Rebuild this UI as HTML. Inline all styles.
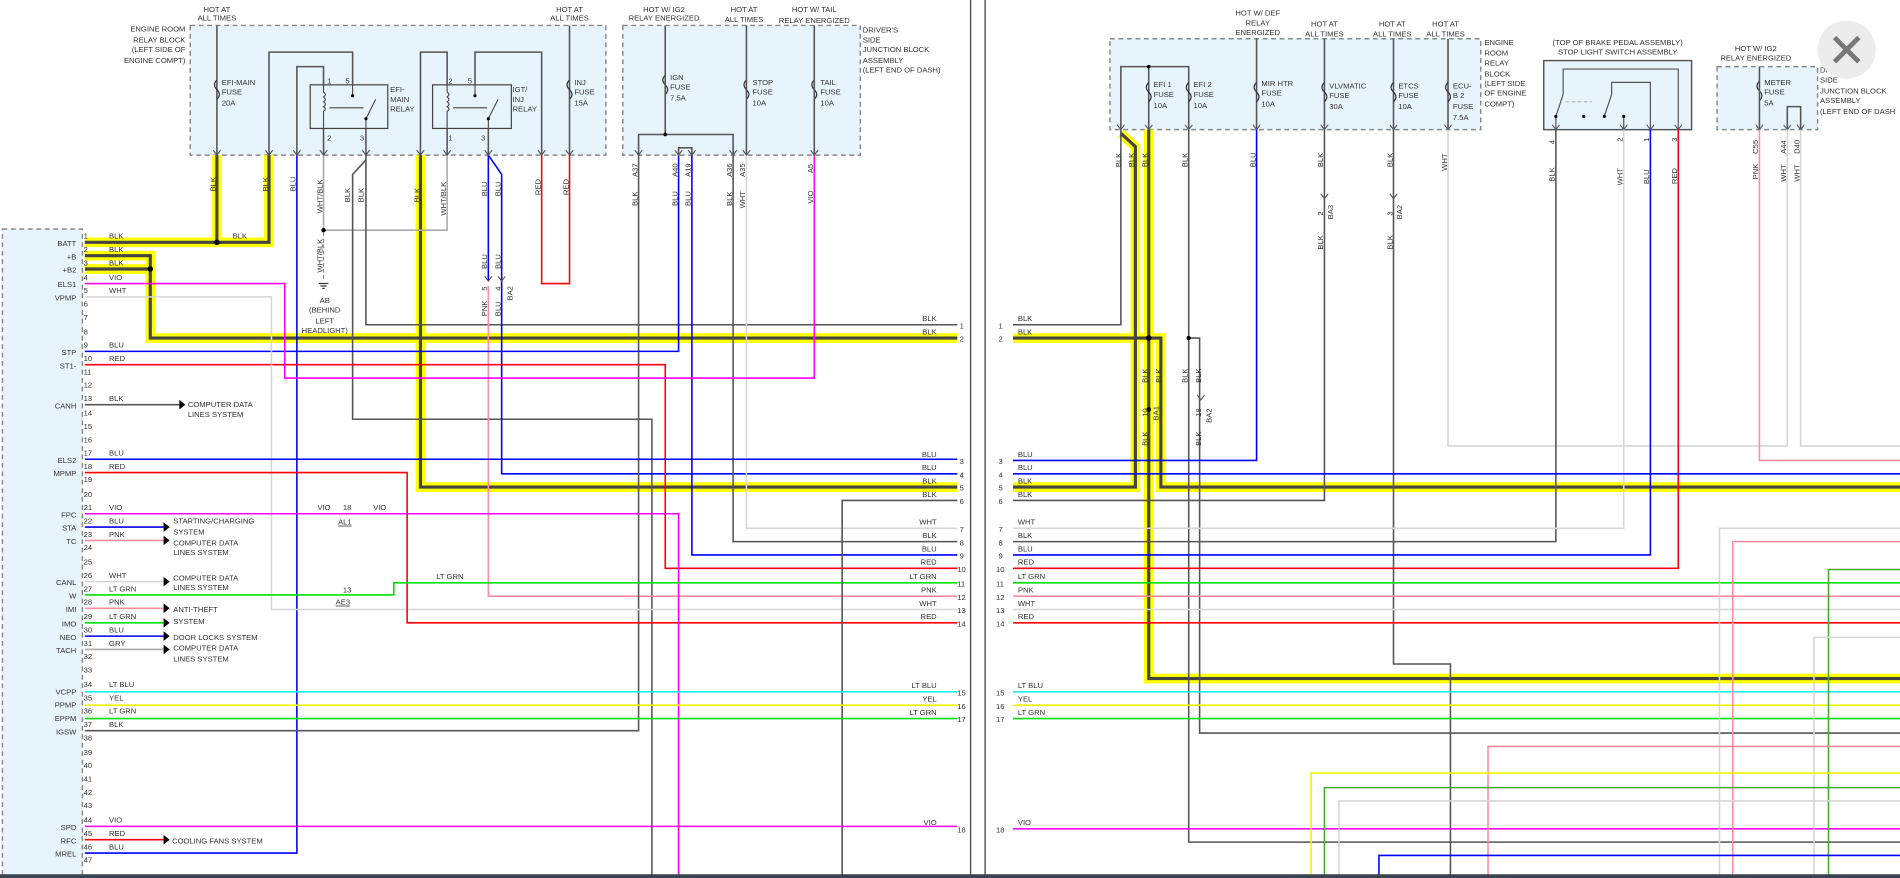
<!DOCTYPE html>
<html><head><meta charset="utf-8"><style>
html,body{margin:0;padding:0;background:#fff;width:1900px;height:878px;overflow:hidden}
svg{display:block}
text{font-family:"Liberation Sans",sans-serif;font-size:6.3px;fill:#333}
.e{text-anchor:end}.m{text-anchor:middle}
.w{fill:none;stroke-width:1.3}
.k{stroke:#555}.b{stroke:#0000ff}.r{stroke:#ff0000}.v{stroke:#ff00ff}.p{stroke:#ff8ca0}.g{stroke:#00e000}.h{stroke:#d6d6d6}.c{stroke:#00f0f0}.y{stroke:#f4f400}.dg{stroke:#4aa832}.gy{stroke:#aaa}
.hl{fill:none;stroke:#ffff00;stroke-width:8}
.hk{fill:none;stroke:#444;stroke-width:2.6}
.box{fill:#e8f4fc;stroke:#888;stroke-width:1.2;stroke-dasharray:4 3}
</style></head><body>
<svg width="1900" height="878" viewBox="0 0 1568 724.6" preserveAspectRatio="none">
<!-- boxes -->
<rect class="box" x="2" y="189" width="66" height="540"/>
<rect class="box" x="157" y="21" width="343" height="107"/>
<rect class="box" x="514" y="21" width="196" height="107"/>
<rect class="box" x="916" y="32" width="306" height="75"/>
<rect x="1274" y="50" width="122" height="57" fill="#e8f4fc" stroke="#555" stroke-width="1.2"/>
<rect class="box" x="1417" y="55" width="83" height="52"/>
<!-- divider -->
<line x1="801" y1="0" x2="801" y2="724" stroke="#555" stroke-width="1.2"/>
<line x1="813" y1="0" x2="813" y2="724" stroke="#555" stroke-width="1.2"/>

<!-- ===== LEFT PANEL HIGHLIGHTS ===== -->
<path class="hl" d="M179 128V200M70 200H222V128M70 211H124V279H790M70 222H124M347 128V402H790"/>
<path class="hk" d="M179 128V200M70 200H222V128M70 211H124V279H790M70 222H124M347 128V402H790"/>
<circle cx="179" cy="200" r="2.3" fill="#000"/><circle cx="124" cy="222" r="2.3" fill="#000"/>

<!-- left wires -->
<path class="w b" d="M245 128V704H70"/>
<path class="w gy" d="M267 128V190M267 190H369V128"/>
<path d="M267 192V232" stroke="#888" stroke-width="1" stroke-dasharray="3 2"/>
<circle cx="267" cy="190" r="1.8" fill="#000"/>
<path d="M263 234h8M264.5 236h5M266 238h2" stroke="#333" stroke-width="1"/>
<path class="w k" d="M302 128V268H790M302 132L291 144V346H538V724"/>
<path class="w b" d="M403 128L414 144V391H790"/>
<path class="w b" d="M403 128V232"/>
<path class="w p" d="M403 236V492H790"/>
<path class="w r" d="M447 128V234H470V128"/>
<path class="w k" d="M527 128V603H70"/>
<path class="w b" d="M560 128V290H70"/>
<path class="w r" d="M70 301H549V469H790"/>
<path class="w b" d="M571 128V458H790"/>
<path class="w k" d="M605 128V447H790"/>
<path class="w h" d="M616 128V436H790"/>
<path class="w v" d="M672 128V312H235V234H70"/>
<path class="w h" d="M70 245H224V503H790"/>
<path class="w r" d="M70 390H336V514H790"/>
<path class="w b" d="M70 379H790"/>
<path class="w v" d="M70 424H560V724"/>
<path class="w g" d="M70 491H325V481H790"/>
<path class="w k" d="M790 413H695V724"/>
<path class="w c" d="M70 571H790"/><path class="w y" d="M70 582H790"/><path class="w g" d="M70 593H790"/>
<path class="w v" d="M70 682H790"/>
<!-- arrows -->
<g stroke-width="1.3" fill="none">
<path class="k" d="M70 334H148"/><path class="b" d="M70 435H135"/><path class="p" d="M70 446H135"/>
<path class="h" d="M70 480H135"/><path class="p" d="M70 502H135"/><path class="g" d="M70 514H135"/>
<path class="b" d="M70 525H135"/><path class="gy" d="M70 536H135"/><path class="r" d="M70 693H135"/>
</g>
<g fill="#000">
<path d="M148 330l5 4-5 4z"/><path d="M135 431l5 4-5 4z"/><path d="M135 442l5 4-5 4z"/><path d="M135 476l5 4-5 4z"/><path d="M135 498l5 4-5 4z"/><path d="M135 510l5 4-5 4z"/><path d="M135 521l5 4-5 4z"/><path d="M135 532l5 4-5 4z"/><path d="M135 689l5 4-5 4z"/>
</g>
<text x="155" y="336">COMPUTER DATA</text><text x="155" y="344">LINES SYSTEM</text>
<text x="143" y="432">STARTING/CHARGING</text><text x="143" y="441">SYSTEM</text>
<text x="143" y="450">COMPUTER DATA</text><text x="143" y="458">LINES SYSTEM</text>
<text x="143" y="479">COMPUTER DATA</text><text x="143" y="487">LINES SYSTEM</text>
<text x="143" y="505">ANTI-THEFT</text><text x="143" y="515">SYSTEM</text>
<text x="143" y="528">DOOR LOCKS SYSTEM</text>
<text x="143" y="537">COMPUTER DATA</text><text x="143" y="546">LINES SYSTEM</text>
<text x="142" y="696">COOLING FANS SYSTEM</text>

<!-- pin numbers / names -->
<g>
<text x="69" y="197">1</text><text x="69" y="208">2</text><text x="69" y="219">3</text><text x="69" y="231">4</text><text x="69" y="242">5</text><text x="69" y="253">6</text><text x="69" y="264">7</text><text x="69" y="276">8</text><text x="69" y="287">9</text><text x="69" y="298">10</text><text x="69" y="309">11</text><text x="69" y="320">12</text><text x="69" y="331">13</text><text x="69" y="343">14</text><text x="69" y="354">15</text><text x="69" y="365">16</text><text x="69" y="376">17</text><text x="69" y="387">18</text><text x="69" y="398">19</text><text x="69" y="410">20</text><text x="69" y="421">21</text><text x="69" y="432">22</text><text x="69" y="443">23</text><text x="69" y="454">24</text><text x="69" y="466">25</text><text x="69" y="477">26</text><text x="69" y="488">27</text><text x="69" y="499">28</text><text x="69" y="511">29</text><text x="69" y="522">30</text><text x="69" y="533">31</text><text x="69" y="544">32</text><text x="69" y="555">33</text><text x="69" y="567">34</text><text x="69" y="578">35</text><text x="69" y="589">36</text><text x="69" y="600">37</text><text x="69" y="611">38</text><text x="69" y="623">39</text><text x="69" y="634">40</text><text x="69" y="645">41</text><text x="69" y="656">42</text><text x="69" y="667">43</text><text x="69" y="679">44</text><text x="69" y="690">45</text><text x="69" y="701">46</text><text x="69" y="712">47</text>
</g>
<g class="e">
<text class="e" x="63" y="203">BATT</text><text class="e" x="63" y="214">+B</text><text class="e" x="63" y="225">+B2</text><text class="e" x="63" y="237">ELS1</text><text class="e" x="63" y="248">VPMP</text><text class="e" x="63" y="293">STP</text><text class="e" x="63" y="304">ST1-</text><text class="e" x="63" y="337">CANH</text><text class="e" x="63" y="382">ELS2</text><text class="e" x="63" y="393">MPMP</text><text class="e" x="63" y="427">FPC</text><text class="e" x="63" y="438">STA</text><text class="e" x="63" y="449">TC</text><text class="e" x="63" y="483">CANL</text><text class="e" x="63" y="494">W</text><text class="e" x="63" y="505">IMI</text><text class="e" x="63" y="517">IMO</text><text class="e" x="63" y="528">NEO</text><text class="e" x="63" y="539">TACH</text><text class="e" x="63" y="573">VCPP</text><text class="e" x="63" y="584">PPMP</text><text class="e" x="63" y="595">EPPM</text><text class="e" x="63" y="606">IGSW</text><text class="e" x="63" y="685">SPD</text><text class="e" x="63" y="696">RFC</text><text class="e" x="63" y="707">MREL</text>
</g>
<g>
<text x="90" y="197">BLK</text><text x="192" y="197">BLK</text><text x="90" y="208">BLK</text><text x="90" y="219">BLK</text><text x="90" y="231">VIO</text><text x="90" y="242">WHT</text><text x="90" y="287">BLU</text><text x="90" y="298">RED</text><text x="90" y="331">BLK</text><text x="90" y="376">BLU</text><text x="90" y="387">RED</text><text x="90" y="421">VIO</text><text x="90" y="432">BLU</text><text x="90" y="443">PNK</text><text x="90" y="477">WHT</text><text x="90" y="488">LT GRN</text><text x="90" y="499">PNK</text><text x="90" y="511">LT GRN</text><text x="90" y="522">BLU</text><text x="90" y="533">GRY</text><text x="90" y="567">LT BLU</text><text x="90" y="578">YEL</text><text x="90" y="589">LT GRN</text><text x="90" y="600">BLK</text><text x="90" y="679">VIO</text><text x="90" y="690">RED</text><text x="90" y="701">BLU</text>
<text x="262" y="421">VIO</text><text x="308" y="421">VIO</text><text x="283" y="421">18</text><text x="279" y="433" text-decoration="underline">AL1</text>
<text x="283" y="489">13</text><text x="277" y="499" text-decoration="underline">AE3</text><text x="360" y="478">LT GRN</text>
</g>
<!-- left panel right end labels -->
<g>
<text class="e" x="773" y="265">BLK</text><text class="e" x="773" y="276">BLK</text><text class="e" x="773" y="377">BLU</text><text class="e" x="773" y="388">BLU</text><text class="e" x="773" y="399">BLK</text><text class="e" x="773" y="410">BLK</text><text class="e" x="773" y="433">WHT</text><text class="e" x="773" y="444">BLK</text><text class="e" x="773" y="455">BLU</text><text class="e" x="773" y="466">RED</text><text class="e" x="773" y="478">LT GRN</text><text class="e" x="773" y="489">PNK</text><text class="e" x="773" y="500">WHT</text><text class="e" x="773" y="511">RED</text><text class="e" x="773" y="568">LT BLU</text><text class="e" x="773" y="579">YEL</text><text class="e" x="773" y="590">LT GRN</text><text class="e" x="773" y="681">VIO</text>
<text x="792" y="271">1</text><text x="792" y="282">2</text><text x="792" y="383">3</text><text x="792" y="394">4</text><text x="792" y="405">5</text><text x="792" y="416">6</text><text x="792" y="439">7</text><text x="792" y="450">8</text><text x="792" y="461">9</text><text x="790" y="472">10</text><text x="790" y="484">11</text><text x="790" y="495">12</text><text x="790" y="506">13</text><text x="790" y="517">14</text><text x="790" y="574">15</text><text x="790" y="585">16</text><text x="790" y="596">17</text><text x="790" y="687">18</text>
</g>

<!-- box1 internals -->
<g class="w k" stroke-width="1">
<path d="M179 21V128M470 21V128"/>
<path d="M245 128V55H267V70M222 128V43H291V70M267 106V128M302 106V128"/>
<path d="M347 128V43H369V70M447 128V43H392V70M369 106V128M403 106V128"/>
</g>
<rect x="256" y="70" width="64" height="36" fill="none" stroke="#444" stroke-width="1"/>
<rect x="357" y="70" width="65" height="36" fill="none" stroke="#444" stroke-width="1"/>
<g fill="none" stroke="#444" stroke-width="0.9">
<path d="M267 70v6q3 2 0 4q3 2 0 4q3 2 0 4q3 2 0 4v14M291 70v8M302 106v-8l8-16M272 89h28"/>
<path d="M369 70v6q3 2 0 4q3 2 0 4q3 2 0 4q3 2 0 4v14M392 70v8M403 106v-8l8-16M374 89h28"/>
</g>
<circle cx="291" cy="79" r="1.3" fill="#000"/><circle cx="302" cy="98" r="1.3" fill="#000"/>
<circle cx="392" cy="79" r="1.3" fill="#000"/><circle cx="403" cy="98" r="1.3" fill="#000"/>
<g fill="none" stroke="#333" stroke-width="1">
<path d="M179 66q-4 4 0 8q4 4 0 8"/><path d="M470 66q-4 4 0 8q4 4 0 8"/>
<path d="M549 62q-4 4 0 8q4 4 0 8"/><path d="M616 66q-4 4 0 8q4 4 0 8"/><path d="M672 66q-4 4 0 8q4 4 0 8"/>
</g>
<text x="270" y="69">1</text><text x="285" y="69">5</text><text x="270" y="116">2</text><text x="297" y="116">3</text>
<text x="370" y="69">2</text><text x="386" y="69">5</text><text x="370" y="116">1</text><text x="397" y="116">3</text>
<text x="183" y="70">EFI-MAIN</text><text x="183" y="78">FUSE</text><text x="183" y="87">20A</text>
<text x="322" y="76">EFI-</text><text x="322" y="84">MAIN</text><text x="322" y="92">RELAY</text>
<text x="423" y="76">IGT/</text><text x="423" y="84">INJ</text><text x="423" y="92">RELAY</text>
<text x="474" y="70">INJ</text><text x="474" y="78">FUSE</text><text x="474" y="87">15A</text>
<text class="m" x="179" y="10">HOT AT</text><text class="m" x="179" y="17">ALL TIMES</text>
<text class="m" x="470" y="10">HOT AT</text><text class="m" x="470" y="17">ALL TIMES</text>
<text class="e" x="153" y="26">ENGINE ROOM</text><text class="e" x="153" y="35">RELAY BLOCK</text><text class="e" x="153" y="43">(LEFT SIDE OF</text><text class="e" x="153" y="52">ENGINE COMPT)</text>
<!-- box2 internals -->
<g class="w k" stroke-width="1">
<path d="M549 21V111M527 128V111H605V128M616 21V128M672 21V128M560 128V122H571V128"/>
</g>
<circle cx="549" cy="111" r="1.5" fill="#000"/>
<text x="553" y="66">IGN</text><text x="553" y="74">FUSE</text><text x="553" y="83">7.5A</text>
<text x="621" y="70">STOP</text><text x="621" y="78">FUSE</text><text x="621" y="87">10A</text>
<text x="677" y="70">TAIL</text><text x="677" y="78">FUSE</text><text x="677" y="87">10A</text>
<text class="m" x="548" y="10">HOT W/ IG2</text><text class="m" x="548" y="17">RELAY ENERGIZED</text>
<text class="m" x="614" y="10">HOT AT</text><text class="m" x="614" y="18">ALL TIMES</text>
<text class="m" x="672" y="10">HOT W/ TAIL</text><text class="m" x="672" y="19">RELAY ENERGIZED</text>
<text x="712" y="27">DRIVER'S</text><text x="712" y="35">SIDE</text><text x="712" y="43">JUNCTION BLOCK</text><text x="712" y="52">ASSEMBLY</text><text x="712" y="60">(LEFT END OF DASH)</text>
<!-- v marks box bottoms -->
<g fill="none" stroke="#555" stroke-width="0.9">
<path d="M176 124l3 4 3-4M219 124l3 4 3-4M242 124l3 4 3-4M264 124l3 4 3-4M299 124l3 4 3-4M344 124l3 4 3-4M366 124l3 4 3-4M400 124l3 4 3-4M444 124l3 4 3-4M467 124l3 4 3-4"/>
<path d="M524 124l3 4 3-4M557 124l3 4 3-4M568 124l3 4 3-4M602 124l3 4 3-4M613 124l3 4 3-4M669 124l3 4 3-4"/>
<path d="M922 103l3 4 3-4M945 103l3 4 3-4M978 103l3 4 3-4M1034 103l3 4 3-4M1090 103l3 4 3-4M1147 103l3 4 3-4M1192 103l3 4 3-4"/>
<path d="M1281 103l3 4 3-4M1337 103l3 4 3-4M1359 103l3 4 3-4M1382 103l3 4 3-4M1449 103l3 4 3-4M1472 103l3 4 3-4M1483 103l3 4 3-4"/>
<path d="M400 228l3 4 3-4M411 228l3 4 3-4M988 326l3 4 3-4M1090 160l3 4 3-4M1147 160l3 4 3-4"/>
</g>
<!-- vertical labels left -->
<g>
<text transform="translate(178,158) rotate(-90)">BLK</text><text transform="translate(221,158) rotate(-90)">BLK</text><text transform="translate(244,158) rotate(-90)">BLU</text><text transform="translate(266,176) rotate(-90)">WHT/BLK</text><text transform="translate(289,167) rotate(-90)">BLK</text><text transform="translate(300,167) rotate(-90)">BLK</text><text transform="translate(346,167) rotate(-90)">BLK</text><text transform="translate(368,178) rotate(-90)">WHT/BLK</text><text transform="translate(402,162) rotate(-90)">BLU</text><text transform="translate(413,162) rotate(-90)">BLU</text><text transform="translate(446,161) rotate(-90)">RED</text><text transform="translate(469,161) rotate(-90)">RED</text>
<text transform="translate(266,225) rotate(-90)">WHT/BLK</text>
<text transform="translate(402,222) rotate(-90)">BLU</text><text transform="translate(413,222) rotate(-90)">BLU</text>
<text transform="translate(402,240) rotate(-90)">5</text><text transform="translate(413,240) rotate(-90)">4</text><text transform="translate(423,248) rotate(-90)">BA2</text>
<text transform="translate(402,261) rotate(-90)">PNK</text><text transform="translate(413,261) rotate(-90)">BLU</text>
<text transform="translate(526,146) rotate(-90)">A37</text><text transform="translate(526,170) rotate(-90)">BLK</text>
<text transform="translate(559,146) rotate(-90)">A40</text><text transform="translate(559,170) rotate(-90)">BLU</text>
<text transform="translate(570,146) rotate(-90)">A19</text><text transform="translate(570,170) rotate(-90)">BLU</text>
<text transform="translate(604,146) rotate(-90)">A36</text><text transform="translate(604,170) rotate(-90)">BLK</text>
<text transform="translate(615,146) rotate(-90)">A35</text><text transform="translate(615,172) rotate(-90)">WHT</text>
<text transform="translate(671,143) rotate(-90)">A5</text><text transform="translate(671,168) rotate(-90)">VIO</text>
</g>
<text class="m" x="268" y="250">AB</text><text class="m" x="268" y="258">(BEHIND</text><text class="m" x="268" y="267">LEFT</text><text class="m" x="268" y="275">HEADLIGHT)</text>

<!-- ===== RIGHT PANEL ===== -->
<path class="hl" d="M925 110L937 121V402H836M836 279H958V402H1568M948 107V560H1568"/>
<path class="hk" d="M925 110L937 121V402H836M836 279H958V402H1568M948 107V560H1568"/>
<circle cx="948" cy="279" r="2.3" fill="#000"/><circle cx="948" cy="338" r="2" fill="#000"/>
<path class="w k" d="M925 107V268H836"/>
<path class="w k" d="M981 107V695H1568M981 279H990V605H1568"/>
<circle cx="981" cy="279" r="1.8" fill="#000"/>
<path class="w b" d="M1037 107V380H836"/>
<path class="w k" d="M1093 107V413H836"/>
<path class="w k" d="M1150 107V548H1197V724"/>
<path class="w h" d="M1195 107V368H1475V107M1486 107V368H1568"/>
<path class="w k" d="M1284 107V447H836"/>
<path class="w h" d="M1340 107V436H836"/>
<path class="w b" d="M1362 107V458H836"/>
<path class="w r" d="M1385 107V469H836"/>
<path class="w p" d="M1452 107V380H1568"/>
<path class="w b" d="M836 391H1568"/>
<path class="w g" d="M836 481H1568"/><path class="w p" d="M836 492H1568"/><path class="w h" d="M836 503H1568"/><path class="w r" d="M836 514H1568"/>
<path class="w c" d="M836 571H1568"/><path class="w y" d="M836 582H1568"/><path class="w g" d="M836 593H1568"/>
<path class="w v" d="M836 684H1568"/>
<path class="w h" d="M1419 724V436H1568"/><path class="w p" d="M1430 724V447H1568"/><path class="w dg" d="M1509 724V470H1568"/>
<path class="w h" d="M1497 724V526H1568"/><path class="w p" d="M1228 724V616H1568"/><path class="w y" d="M1082 724V638H1568"/>
<path class="w dg" d="M1093 724V650H1568"/><path class="w h" d="M1105 724V661H1568"/><path class="w b" d="M1138 724V706H1568"/>
<!-- ER box internals -->
<g class="w k" stroke-width="1"><path d="M925 107V55H981V107M948 55V107M1037 32V107M1093 32V107M1150 32V107M1195 32V107"/></g>
<circle cx="948" cy="55" r="1.5" fill="#000"/>
<g fill="none" stroke="#333" stroke-width="1">
<path d="M948 68q-4 4 0 8q4 4 0 8"/><path d="M981 68q-4 4 0 8q4 4 0 8"/><path d="M1037 68q-4 4 0 8q4 4 0 8"/><path d="M1093 68q-4 4 0 8q4 4 0 8"/><path d="M1150 68q-4 4 0 8q4 4 0 8"/><path d="M1195 68q-4 4 0 8q4 4 0 8"/><path d="M1452 67q-4 4 0 8q4 4 0 8"/>
</g>
<text x="952" y="72">EFI 1</text><text x="952" y="80">FUSE</text><text x="952" y="89">10A</text>
<text x="985" y="72">EFI 2</text><text x="985" y="80">FUSE</text><text x="985" y="89">10A</text>
<text x="1041" y="71">MIR HTR</text><text x="1041" y="79">FUSE</text><text x="1041" y="88">10A</text>
<text x="1097" y="73">VLVMATIC</text><text x="1097" y="81">FUSE</text><text x="1097" y="90">30A</text>
<text x="1154" y="73">ETCS</text><text x="1154" y="81">FUSE</text><text x="1154" y="90">10A</text>
<text x="1199" y="73">ECU-</text><text x="1199" y="81">B 2</text><text x="1199" y="90">FUSE</text><text x="1199" y="99">7.5A</text>
<text x="1225" y="37">ENGINE</text><text x="1225" y="46">ROOM</text><text x="1225" y="54">RELAY</text><text x="1225" y="63">BLOCK</text><text x="1225" y="71">(LEFT SIDE</text><text x="1225" y="79">OF ENGINE</text><text x="1225" y="88">COMPT)</text>
<text class="m" x="1038" y="13">HOT W/ DEF</text><text class="m" x="1038" y="21">RELAY</text><text class="m" x="1038" y="29">ENERGIZED</text>
<text class="m" x="1093" y="22">HOT AT</text><text class="m" x="1093" y="30">ALL TIMES</text>
<text class="m" x="1149" y="22">HOT AT</text><text class="m" x="1149" y="30">ALL TIMES</text>
<text class="m" x="1193" y="22">HOT AT</text><text class="m" x="1193" y="30">ALL TIMES</text>
<!-- brake switch -->
<g fill="none" stroke="#555" stroke-width="1"><path d="M1284 107V96l6-18V57H1385V107M1324 96l6-18V68H1362V107M1340 107V96"/></g>
<path d="M1292 84h22" stroke="#bbb" stroke-width="1" stroke-dasharray="3 2"/>
<circle cx="1284" cy="96" r="1.3" fill="#000"/><circle cx="1307" cy="96" r="1.3" fill="#000"/><circle cx="1324" cy="96" r="1.3" fill="#000"/><circle cx="1340" cy="96" r="1.3" fill="#000"/>
<text class="m" x="1335" y="37">(TOP OF BRAKE PEDAL ASSEMBLY)</text><text class="m" x="1335" y="45">STOP LIGHT SWITCH ASSEMBLY</text>
<text x="1278" y="118" transform="rotate(-90 1281 116)">4</text><text x="1334" y="116" transform="rotate(-90 1337 114)">2</text><text x="1356" y="116" transform="rotate(-90 1359 114)">1</text><text x="1379" y="116" transform="rotate(-90 1382 114)">3</text>
<!-- meter -->
<path class="w k" stroke-width="1" d="M1452 55V107M1475 107V88H1486V107"/>
<text x="1456" y="70">METER</text><text x="1456" y="78">FUSE</text><text x="1456" y="87">5A</text>
<text class="m" x="1449" y="42">HOT W/ IG2</text><text class="m" x="1449" y="50">RELAY ENERGIZED</text>
<text x="1502" y="60">DRIVER'S</text><text x="1502" y="68">SIDE</text><text x="1502" y="77">JUNCTION BLOCK</text><text x="1502" y="85">ASSEMBLY</text><text x="1502" y="94">(LEFT END OF DASH</text>
<!-- right vertical labels -->
<g>
<text transform="translate(925,138) rotate(-90)">BLK</text><text transform="translate(936,138) rotate(-90)">BLK</text><text transform="translate(947,138) rotate(-90)">BLK</text><text transform="translate(980,138) rotate(-90)">BLK</text><text transform="translate(1036,138) rotate(-90)">BLU</text><text transform="translate(1092,138) rotate(-90)">BLK</text><text transform="translate(1149,138) rotate(-90)">BLK</text><text transform="translate(1194,141) rotate(-90)">WHT</text>
<text transform="translate(1092,178) rotate(-90)">2</text><text transform="translate(1100,181) rotate(-90)">BA3</text><text transform="translate(1092,206) rotate(-90)">BLK</text>
<text transform="translate(1149,178) rotate(-90)">3</text><text transform="translate(1157,181) rotate(-90)">BA2</text><text transform="translate(1149,206) rotate(-90)">BLK</text>
<text transform="translate(1283,150) rotate(-90)">BLK</text><text transform="translate(1339,153) rotate(-90)">WHT</text><text transform="translate(1361,152) rotate(-90)">BLU</text><text transform="translate(1384,152) rotate(-90)">RED</text>
<text transform="translate(1451,127) rotate(-90)">C55</text><text transform="translate(1451,148) rotate(-90)">PNK</text>
<text transform="translate(1474,127) rotate(-90)">A44</text><text transform="translate(1474,150) rotate(-90)">WHT</text>
<text transform="translate(1485,127) rotate(-90)">D40</text><text transform="translate(1485,150) rotate(-90)">WHT</text>
<text transform="translate(947,316) rotate(-90)">BLK</text><text transform="translate(958,316) rotate(-90)">BLK</text><text transform="translate(980,316) rotate(-90)">BLK</text><text transform="translate(991,316) rotate(-90)">BLK</text>
<text transform="translate(947,344) rotate(-90)">10</text><text transform="translate(956,347) rotate(-90)">BA1</text>
<text transform="translate(991,344) rotate(-90)">18</text><text transform="translate(1000,349) rotate(-90)">BA2</text>
<text transform="translate(947,368) rotate(-90)">BLK</text><text transform="translate(991,368) rotate(-90)">BLK</text>
</g>
<!-- right row labels -->
<g>
<text x="840" y="265">BLK</text><text x="840" y="276">BLK</text><text x="840" y="377">BLU</text><text x="840" y="388">BLU</text><text x="840" y="399">BLK</text><text x="840" y="410">BLK</text><text x="840" y="433">WHT</text><text x="840" y="444">BLK</text><text x="840" y="455">BLU</text><text x="840" y="466">RED</text><text x="840" y="478">LT GRN</text><text x="840" y="489">PNK</text><text x="840" y="500">WHT</text><text x="840" y="511">RED</text><text x="840" y="568">LT BLU</text><text x="840" y="579">YEL</text><text x="840" y="590">LT GRN</text><text x="840" y="681">VIO</text>
<text x="824" y="271">1</text><text x="824" y="282">2</text><text x="824" y="383">3</text><text x="824" y="394">4</text><text x="824" y="405">5</text><text x="824" y="416">6</text><text x="824" y="439">7</text><text x="824" y="450">8</text><text x="824" y="461">9</text><text x="822" y="472">10</text><text x="822" y="484">11</text><text x="822" y="495">12</text><text x="822" y="506">13</text><text x="822" y="517">14</text><text x="822" y="574">15</text><text x="822" y="585">16</text><text x="822" y="596">17</text><text x="822" y="687">18</text>
</g>
<!-- close button -->
<circle cx="1524" cy="41" r="24" fill="#ececec"/>
<path d="M1514 31l20 20M1534 31l-20 20" stroke="#777" stroke-width="4"/>
<!-- bottom bar -->
<rect x="0" y="721.5" width="1568" height="4" fill="#3a4350"/>
</svg>
</body></html>
